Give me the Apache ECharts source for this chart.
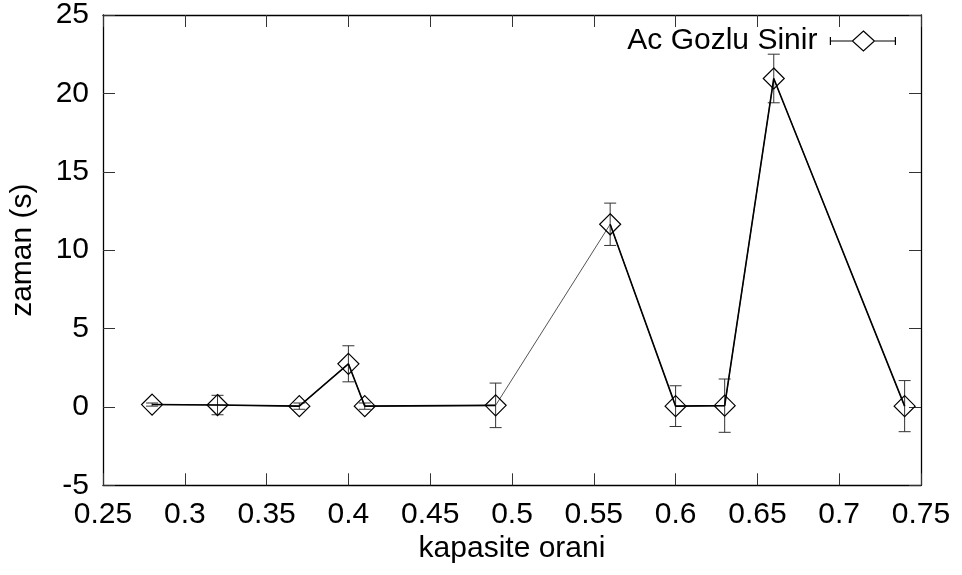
<!DOCTYPE html>
<html>
<head>
<meta charset="utf-8">
<script src="https://cdn.jsdelivr.net/npm/echarts@6/dist/echarts.min.js"></script>
<style>
html,body{margin:0;padding:0;background:#fff;}
#chart{width:962px;height:575px;}
</style>
</head>
<body>
<div id="chart"></div>
<script>
// ---- data ----
const seriesName = 'Ac Gozlu Sinir';
const xValues = [0.28, 0.32, 0.37, 0.40, 0.41, 0.49, 0.56, 0.60, 0.63, 0.66, 0.74];
const yValues = [0.15, 0.12, 0.05, 2.75, 0.05, 0.1, 11.65, 0.05, 0.08, 20.95, 0.05];
const yErrors = [0.1, 0.62, 0.2, 1.15, 0.2, 1.42, 1.35, 1.3, 1.7, 1.55, 1.63];
const xTicks = {min: 0.25, max: 0.75, step: 0.05};
const yTicks = {min: -5, max: 25, step: 5};
const xTitle = 'kapasite orani';
const yTitle = 'zaman (s)';

// ---- build ----
const FONT = 'Liberation Sans, Arial, Helvetica, sans-serif';
const FS = 30;
const points = xValues.map((x, i) => [x, yValues[i]]);
const errData = xValues.map((x, i) => [x, yValues[i] - yErrors[i], yValues[i] + yErrors[i]]);
const thinSeg = 5; // segment from point 5 to 6 is drawn thin

const chart = echarts.init(document.getElementById('chart'), null, {renderer: 'canvas'});

function axisCommon() {
  return {
    axisLine: {show: true, onZero: false, lineStyle: {color: '#000', width: 1.3}},
    axisTick: {show: true, inside: true, length: 12, lineStyle: {color: '#333', width: 1}},
    splitLine: {show: false}
  };
}

const option = {
  backgroundColor: '#fff',
  animation: false,
  grid: {left: 103, right: 41, top: 13.5, bottom: 89.7, containLabel: false},
  legend: {
    data: [{name: seriesName, icon: 'path://M0,10 L22,10 M44,10 L65,10 M0,6 L0,14 M65,6 L65,14 M33,0 L44,10 L33,20 L22,10 Z'}],
    right: 61, top: 21,
    align: 'right',
    itemWidth: 65, itemHeight: 20,
    selectedMode: false,
    itemStyle: {color: 'transparent', borderColor: '#000', borderWidth: 1.2},
    textStyle: {fontFamily: FONT, fontSize: FS, color: '#000', padding: [0, 8, 0, 0]}
  },
  xAxis: [
    Object.assign(axisCommon(), {
      type: 'value', position: 'bottom', min: xTicks.min, max: xTicks.max, interval: xTicks.step,
      name: xTitle, nameLocation: 'middle', nameGap: 47,
      nameTextStyle: {fontFamily: FONT, fontSize: FS, color: '#000'},
      axisLabel: {fontFamily: FONT, fontSize: FS, color: '#000', margin: 14}
    }),
    Object.assign(axisCommon(), {
      type: 'value', position: 'top', min: xTicks.min, max: xTicks.max, interval: xTicks.step,
      axisLabel: {show: false}
    })
  ],
  yAxis: [
    Object.assign(axisCommon(), {
      type: 'value', position: 'left', min: yTicks.min, max: yTicks.max, interval: yTicks.step,
      name: yTitle, nameLocation: 'middle', nameGap: 65, nameRotate: 90,
      nameTextStyle: {fontFamily: FONT, fontSize: FS, color: '#000'},
      axisLabel: {fontFamily: FONT, fontSize: FS, color: '#000', margin: 14}
    }),
    Object.assign(axisCommon(), {
      type: 'value', position: 'right', min: yTicks.min, max: yTicks.max, interval: yTicks.step,
      axisLabel: {show: false}
    })
  ],
  series: [
    {
      type: 'custom',
      name: 'err',
      silent: true,
      z: 2,
      renderItem: function (params, api) {
        const x = api.value(0);
        const lo = api.coord([x, api.value(1)]);
        const hi = api.coord([x, api.value(2)]);
        const cap = 6;
        const st = {stroke: '#333', lineWidth: 1};
        return {
          type: 'group',
          children: [
            {type: 'line', shape: {x1: lo[0], y1: lo[1], x2: hi[0], y2: hi[1]}, style: st},
            {type: 'line', shape: {x1: lo[0] - cap, y1: lo[1], x2: lo[0] + cap, y2: lo[1]}, style: st},
            {type: 'line', shape: {x1: hi[0] - cap, y1: hi[1], x2: hi[0] + cap, y2: hi[1]}, style: st}
          ]
        };
      },
      encode: {x: 0, y: [1, 2]},
      data: errData
    },
    {
      type: 'line',
      name: seriesName,
      z: 3,
      symbol: 'diamond',
      symbolSize: [21, 21],
      showAllSymbol: true,
      lineStyle: {color: '#555', width: 1},
      itemStyle: {color: 'transparent', borderColor: '#000', borderWidth: 1.2},
      emphasis: {disabled: true},
      data: points
    },
    {
      type: 'line',
      name: 'thickA',
      silent: true,
      z: 5,
      symbol: 'none',
      lineStyle: {color: '#000', width: 1.6},
      data: points.slice(0, thinSeg + 1)
    },
    {
      type: 'line',
      name: 'thickB',
      silent: true,
      z: 5,
      symbol: 'none',
      lineStyle: {color: '#000', width: 1.6},
      data: points.slice(thinSeg + 1)
    }
  ]
};
chart.setOption(option);
</script>
</body>
</html>
